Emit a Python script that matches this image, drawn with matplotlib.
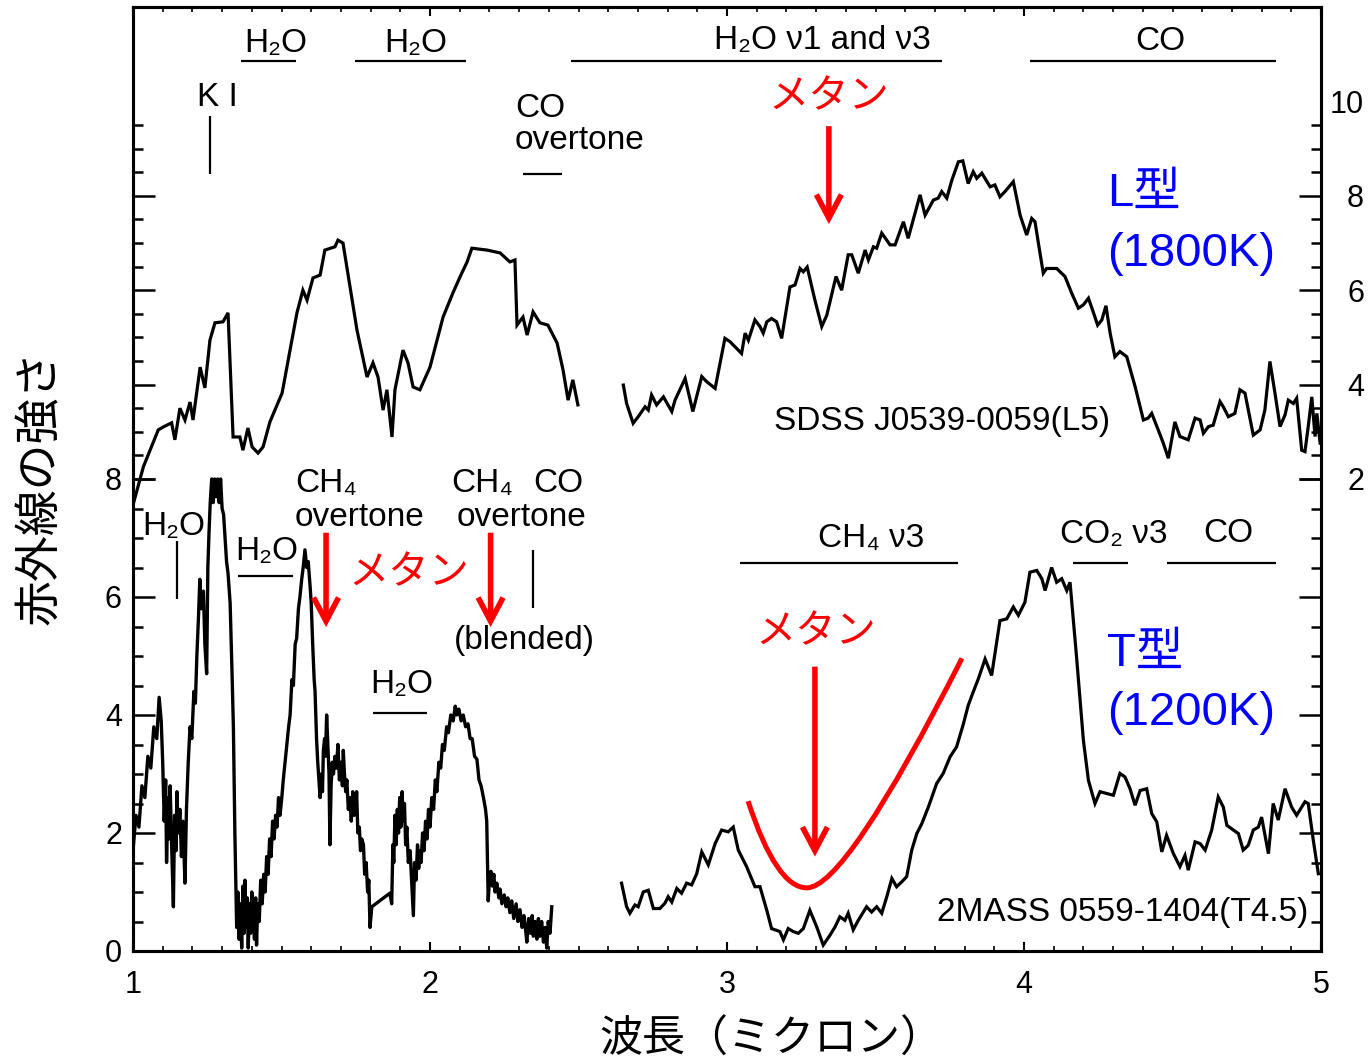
import numpy as np
import matplotlib
matplotlib.use('Agg')
import matplotlib.pyplot as plt
from matplotlib.ticker import FixedLocator
from matplotlib.path import Path
from matplotlib.patches import PathPatch

plt.rcParams['font.family'] = ['Liberation Sans', 'Noto Sans CJK JP', 'DejaVu Sans']

# ---------------- data ----------------
# L-type spectrum (right axis scale), segment 1 (1.0 - 2.5 micron)
L1_x = [1.000, 1.035, 1.085, 1.101, 1.130, 1.141, 1.158, 1.175, 1.192, 1.202, 1.226, 1.242, 1.259,
        1.276, 1.303, 1.320, 1.337, 1.360, 1.370, 1.387, 1.401, 1.421, 1.438, 1.461, 1.502, 1.552,
        1.572, 1.586, 1.606, 1.630, 1.646, 1.680, 1.690, 1.707, 1.754, 1.788, 1.808, 1.825, 1.842,
        1.855, 1.872, 1.882, 1.909, 1.926, 1.943, 1.966, 2.000, 2.044, 2.077, 2.101, 2.125, 2.141,
        2.192, 2.236, 2.269, 2.286, 2.293, 2.313, 2.327, 2.347, 2.370, 2.397, 2.428, 2.448, 2.465,
        2.481, 2.498]
L1_y = [1.45, 2.26, 3.04, 3.10, 3.19, 2.83, 3.50, 3.25, 3.63, 3.25, 4.37, 3.93, 4.94,
        5.31, 5.33, 5.52, 2.89, 2.89, 2.61, 3.08, 2.68, 2.55, 2.68, 3.21, 3.82, 5.52,
        6.00, 5.79, 6.26, 6.32, 6.85, 6.92, 7.06, 7.00, 5.16, 4.16, 4.46, 4.16, 3.46,
        3.89, 2.89, 3.89, 4.73, 4.46, 3.95, 3.89, 4.37, 5.43, 5.94, 6.28, 6.60, 6.89,
        6.85, 6.79, 6.60, 6.64, 5.26, 5.43, 5.05, 5.54, 5.31, 5.26, 4.88, 4.31, 3.67,
        4.10, 3.57]

# L-type spectrum, segment 2 (2.65 - 5.0 micron)
L2_x = [2.651, 2.662, 2.684, 2.701, 2.724, 2.735, 2.746, 2.763, 2.786, 2.814, 2.825, 2.859, 2.885,
        2.915, 2.932, 2.960, 2.993, 3.010, 3.049, 3.061, 3.072, 3.094, 3.111, 3.122, 3.134, 3.150,
        3.167, 3.184, 3.212, 3.229, 3.246, 3.257, 3.270, 3.296, 3.319, 3.336, 3.367, 3.386, 3.408,
        3.420, 3.442, 3.465, 3.476, 3.493, 3.504, 3.521, 3.549, 3.566, 3.594, 3.610, 3.650, 3.667,
        3.695, 3.711, 3.723, 3.740, 3.757, 3.779, 3.794, 3.812, 3.829, 3.841, 3.858, 3.886, 3.902,
        3.919, 3.936, 3.964, 3.987, 4.009, 4.026, 4.037, 4.054, 4.065, 4.076, 4.110, 4.138, 4.161,
        4.183, 4.200, 4.217, 4.233, 4.248, 4.262, 4.276, 4.290, 4.306, 4.323, 4.346, 4.374, 4.402,
        4.418, 4.430, 4.452, 4.469, 4.486, 4.508, 4.525, 4.553, 4.576, 4.593, 4.604, 4.621, 4.637,
        4.660, 4.671, 4.688, 4.710, 4.727, 4.744, 4.772, 4.795, 4.811, 4.828, 4.845, 4.862, 4.879,
        4.890, 4.907, 4.918, 4.935, 4.946, 4.957, 4.969, 4.980, 4.986, 4.997]
L2_y = [3.99, 3.60, 3.18, 3.32, 3.53, 3.46, 3.78, 3.57, 3.74, 3.43, 3.67, 4.13, 3.43,
        4.17, 4.06, 3.92, 4.98, 4.91, 4.66, 5.09, 4.94, 5.37, 5.23, 5.09, 5.33, 5.40,
        5.33, 4.98, 6.07, 6.11, 6.46, 6.39, 6.49, 5.79, 5.23, 5.47, 6.29, 6.00, 6.75,
        6.75, 6.36, 6.85, 6.64, 6.92, 6.89, 7.21, 6.96, 6.96, 7.45, 7.10, 8.02, 7.59,
        7.91, 7.95, 8.09, 7.95, 8.33, 8.72, 8.74, 8.26, 8.51, 8.37, 8.48, 8.19, 8.23,
        7.98, 8.09, 8.30, 7.59, 7.17, 7.52, 7.45, 6.78, 6.36, 6.46, 6.46, 6.29, 5.93,
        5.62, 5.69, 5.83, 5.54, 5.26, 5.37, 5.67, 5.09, 4.59, 4.70, 4.59, 3.96, 3.25,
        3.29, 3.39, 3.04, 2.76, 2.44, 3.21, 2.90, 2.83, 3.29, 3.25, 2.97, 3.11, 3.14,
        3.64, 3.53, 3.32, 3.39, 3.89, 3.82, 2.93, 3.04, 3.46, 4.49, 3.82, 3.11, 3.36,
        3.67, 3.60, 3.71, 2.61, 2.58, 3.11, 3.74, 2.90, 3.39, 2.76]

# T-type spectrum (left axis scale), segment 1 (1.0 - 2.41 micron)
T1_x = [1.000, 1.010, 1.020, 1.030, 1.040, 1.050, 1.060, 1.070, 1.080, 1.088, 1.095, 1.100, 1.105,
        1.110, 1.113, 1.118, 1.122, 1.125, 1.130, 1.136, 1.140, 1.145, 1.148, 1.152, 1.158, 1.163,
        1.168, 1.175, 1.180, 1.186, 1.192, 1.198, 1.205, 1.210, 1.215, 1.220, 1.225, 1.230, 1.237,
        1.242, 1.248, 1.252, 1.256, 1.260, 1.265, 1.270, 1.275, 1.280, 1.285, 1.290, 1.295, 1.300,
        1.305, 1.310, 1.315, 1.320, 1.327, 1.333, 1.338, 1.343, 1.349, 1.353, 1.357, 1.361, 1.366,
        1.370, 1.374, 1.377, 1.381, 1.385, 1.388, 1.392, 1.396, 1.400, 1.405, 1.409, 1.413, 1.416,
        1.420, 1.425, 1.430, 1.435, 1.440, 1.445, 1.450, 1.455, 1.460, 1.465, 1.470, 1.475, 1.480,
        1.485, 1.490, 1.495, 1.501, 1.506, 1.512, 1.518, 1.524, 1.529, 1.535, 1.540, 1.546, 1.551,
        1.557, 1.562, 1.568, 1.573, 1.579, 1.585, 1.590, 1.596, 1.600, 1.605, 1.610, 1.613, 1.618,
        1.622, 1.626, 1.630, 1.634, 1.638, 1.641, 1.645, 1.648, 1.652, 1.656, 1.660, 1.663, 1.667,
        1.671, 1.675, 1.680, 1.685, 1.690, 1.695, 1.700, 1.705, 1.708, 1.712, 1.716, 1.720, 1.725,
        1.730, 1.735, 1.740, 1.745, 1.750, 1.753, 1.757, 1.762, 1.766, 1.770, 1.776, 1.780, 1.785,
        1.790, 1.794, 1.798, 1.804, 1.865, 1.871, 1.875, 1.878, 1.882, 1.886, 1.890, 1.894, 1.898,
        1.902, 1.906, 1.910, 1.914, 1.918, 1.922, 1.927, 1.933, 1.938, 1.944, 1.948, 1.953, 1.958,
        1.962, 1.966, 1.970, 1.975, 1.980, 1.985, 1.990, 1.995, 2.000, 2.006, 2.012, 2.018, 2.023,
        2.030, 2.036, 2.042, 2.048, 2.056, 2.062, 2.070, 2.078, 2.085, 2.090, 2.097, 2.105, 2.112,
        2.120, 2.128, 2.135, 2.142, 2.150, 2.158, 2.165, 2.172, 2.180, 2.187, 2.191, 2.196, 2.200,
        2.205, 2.210, 2.215, 2.219, 2.225, 2.232, 2.236, 2.242, 2.250, 2.256, 2.262, 2.269, 2.275,
        2.282, 2.290, 2.296, 2.303, 2.310, 2.316, 2.322, 2.326, 2.332, 2.338, 2.344, 2.348, 2.354,
        2.360, 2.365, 2.370, 2.376, 2.382, 2.388, 2.393, 2.398, 2.404, 2.410]
T1_y = [1.70, 2.30, 2.10, 2.80, 2.60, 3.30, 3.10, 3.80, 3.60, 4.30, 3.90, 3.20, 2.20,
        2.90, 1.50, 2.60, 1.90, 2.80, 1.80, 0.75, 2.30, 1.70, 2.70, 2.00, 2.40, 1.60,
        2.20, 1.15, 2.40, 3.20, 3.80, 3.60, 4.40, 4.20, 5.00, 5.60, 6.30, 5.80, 6.10,
        5.20, 4.70, 6.50, 7.10, 7.60, 8.00, 7.60, 8.00, 7.70, 8.00, 7.60, 8.00, 7.50,
        7.40, 7.00, 6.60, 6.40, 5.90, 4.80, 3.80, 2.00, 0.40, 1.00, 0.20, 0.80, 0.05,
        1.10, 0.30, 1.20, 0.40, 0.90, 0.05, 0.80, 0.30, 1.00, 0.60, 0.20, 0.90, 0.10,
        0.80, 0.50, 1.20, 0.80, 1.30, 1.00, 1.60, 1.30, 1.90, 1.60, 2.20, 1.90, 2.30,
        2.10, 2.60, 2.30, 2.60, 2.90, 3.20, 3.50, 3.80, 4.00, 4.60, 4.50, 5.20, 5.30,
        5.80, 6.00, 6.30, 6.50, 6.80, 6.50, 6.60, 6.20, 5.90, 5.20, 4.60, 4.40, 3.60,
        3.20, 2.90, 2.60, 3.00, 2.70, 3.40, 3.60, 3.30, 4.00, 3.50, 3.00, 1.80, 2.80,
        3.20, 3.00, 3.30, 3.10, 3.50, 2.90, 3.20, 2.80, 3.40, 3.00, 2.70, 2.90, 2.40,
        2.60, 2.20, 2.70, 2.30, 2.40, 2.70, 2.00, 2.10, 1.70, 1.90, 1.80, 1.30, 1.50,
        1.00, 1.20, 0.40, 0.75, 0.98, 0.80, 1.80, 1.50, 2.30, 1.80, 2.40, 2.00, 2.60,
        2.10, 2.70, 2.20, 2.50, 1.80, 2.10, 1.50, 1.70, 1.20, 0.60, 1.50, 1.20, 1.80,
        1.40, 1.70, 1.50, 2.00, 1.70, 2.20, 1.90, 2.40, 2.10, 2.60, 2.40, 2.90, 2.70,
        3.20, 3.10, 3.50, 3.40, 3.80, 3.70, 4.00, 3.90, 4.15, 4.00, 4.10, 3.90, 4.00,
        3.80, 3.85, 3.60, 3.60, 3.30, 3.25, 2.90, 2.80, 2.60, 2.40, 2.20, 0.85, 1.20,
        1.35, 1.10, 1.30, 1.00, 1.15, 0.90, 1.05, 0.80, 0.95, 0.75, 0.90, 0.65, 0.85,
        0.55, 0.80, 0.50, 0.70, 0.40, 0.60, 0.35, 0.15, 0.55, 0.30, 0.60, 0.25, 0.50,
        0.20, 0.55, 0.25, 0.50, 0.15, 0.40, 0.05, 0.50, 0.30, 0.75]

# T-type spectrum, segment 2 (2.64 - 5.0 micron)
T2_x = [2.645, 2.662, 2.673, 2.690, 2.701, 2.718, 2.735, 2.752, 2.774, 2.791, 2.802, 2.814, 2.831,
        2.847, 2.864, 2.881, 2.898, 2.915, 2.937, 2.960, 2.982, 3.004, 3.021, 3.038, 3.066, 3.094,
        3.111, 3.134, 3.150, 3.178, 3.190, 3.206, 3.223, 3.240, 3.257, 3.279, 3.302, 3.324, 3.347,
        3.364, 3.380, 3.397, 3.408, 3.425, 3.442, 3.470, 3.487, 3.504, 3.521, 3.538, 3.555, 3.571,
        3.588, 3.605, 3.622, 3.639, 3.656, 3.678, 3.706, 3.728, 3.751, 3.773, 3.796, 3.812, 3.829,
        3.846, 3.869, 3.891, 3.919, 3.942, 3.964, 3.981, 4.003, 4.020, 4.043, 4.060, 4.071, 4.093,
        4.110, 4.127, 4.144, 4.155, 4.177, 4.200, 4.217, 4.239, 4.256, 4.278, 4.301, 4.323, 4.340,
        4.357, 4.374, 4.391, 4.413, 4.430, 4.447, 4.464, 4.480, 4.503, 4.525, 4.542, 4.553, 4.576,
        4.593, 4.610, 4.632, 4.654, 4.671, 4.683, 4.705, 4.722, 4.738, 4.755, 4.772, 4.789, 4.800,
        4.823, 4.839, 4.856, 4.879, 4.901, 4.918, 4.946, 4.957, 4.974, 4.991]
T2_y = [1.15, 0.75, 0.64, 0.78, 0.75, 1.00, 1.03, 0.72, 0.72, 0.81, 0.92, 0.83, 1.06,
        0.98, 1.15, 1.12, 1.31, 1.68, 1.46, 1.82, 2.05, 2.02, 2.10, 1.71, 1.43, 1.09,
        1.09, 0.69, 0.38, 0.33, 0.19, 0.38, 0.33, 0.30, 0.38, 0.69, 0.41, 0.10, 0.27,
        0.41, 0.58, 0.52, 0.64, 0.36, 0.52, 0.75, 0.66, 0.75, 0.64, 0.92, 1.23, 1.09,
        1.17, 1.26, 1.71, 1.99, 2.16, 2.44, 2.84, 3.01, 3.29, 3.46, 3.85, 4.16, 4.39,
        4.61, 4.95, 4.67, 5.60, 5.63, 5.83, 5.69, 5.91, 6.42, 6.45, 6.31, 6.11, 6.50,
        6.25, 6.31, 6.11, 6.25, 4.98, 3.57, 2.89, 2.50, 2.70, 2.67, 2.64, 3.01, 2.95,
        2.75, 2.47, 2.72, 2.75, 2.33, 2.19, 1.68, 1.96, 1.65, 1.43, 1.62, 1.37, 1.85,
        1.82, 1.71, 2.05, 2.61, 2.44, 2.13, 2.05, 1.99, 1.71, 1.79, 2.05, 2.10, 2.27,
        1.65, 2.50, 2.22, 2.75, 2.44, 2.30, 2.53, 2.50, 1.88, 1.31]

x_ticks = [1, 2, 3, 4, 5]
left_ticks = [0, 2, 4, 6, 8]
right_ticks = [2, 4, 6, 8, 10]

RED = '#ff0000'
BLUE = '#0000ff'

# ---------------- figure ----------------
fig = plt.figure(figsize=(13.7, 10.63), dpi=100)
ax = fig.add_axes([133 / 1370, 1 - 951 / 1063, (1321 - 133) / 1370, (951 - 7) / 1063])
ax2 = ax.twinx()

ax.set_xlim(1, 5)
ax.set_ylim(0, 16)
ax2.set_ylim(-8, 12)

# spectra
ax2.plot(L1_x, L1_y, color='black', lw=2.3, solid_joinstyle='miter')
ax2.plot(L2_x, L2_y, color='black', lw=2.3, solid_joinstyle='miter')
ax.plot(T1_x, T1_y, color='black', lw=2.4)
ax.plot(T2_x, T2_y, color='black', lw=2.3, solid_joinstyle='miter')

# ---- ticks ----
ax.set_xticks(x_ticks)
ax.set_xticklabels([str(v) for v in x_ticks])
ax.xaxis.set_minor_locator(FixedLocator([1 + 0.1 * i for i in range(41) if i % 10 != 0]))
ax.tick_params(axis='x', which='both', direction='in', top=True, bottom=True)
ax.tick_params(axis='x', which='major', length=6.5, width=1.5, labelsize=22, pad=14)
ax.tick_params(axis='x', which='minor', length=3.3, width=1.2)

ax.set_yticks(left_ticks)
ax.set_yticklabels([str(v) for v in left_ticks])
ax.yaxis.set_minor_locator(FixedLocator([0.5 * i for i in range(1, 16) if i % 4 != 0]))
ax.tick_params(axis='y', which='both', direction='in', left=True, right=True,
               labelleft=True, labelright=False)
ax.tick_params(axis='y', which='major', length=16, width=1.8, labelsize=22, pad=8)
ax.tick_params(axis='y', which='minor', length=7.5, width=1.8)

ax2.set_yticks(right_ticks)
ax2.set_yticklabels([str(v) for v in right_ticks])
ax2.yaxis.set_minor_locator(FixedLocator([2 + 0.5 * i for i in range(1, 16) if i % 4 != 0]))
ax2.tick_params(axis='y', which='both', direction='in', left=True, right=True,
                labelleft=False, labelright=True)
ax2.tick_params(axis='y', which='major', length=16, width=1.8, labelsize=22, pad=31)
ax2.tick_params(axis='y', which='minor', length=7.5, width=1.8)
for t in ax2.yaxis.get_major_ticks():
    t.label2.set_horizontalalignment('right')
top_tick = ax2.yaxis.get_major_ticks()[-1]
top_tick.tick1line.set_visible(False)
top_tick.tick2line.set_visible(False)

for a in (ax, ax2):
    for s in a.spines.values():
        s.set_linewidth(2.2)

# ---- axis labels ----
fig.text(771 / 1370, 1 - 1040 / 1063, '波長（ミクロン）', fontsize=31, ha='center', va='center',
         family=['Noto Sans CJK JP', 'DejaVu Sans'])
fig.text(40 / 1370, 1 - 487 / 1063, '赤外線の強さ', fontsize=33, ha='center', va='center',
         rotation=90, family=['Noto Sans CJK JP', 'DejaVu Sans'])

# ---- black band annotations (left-axis data coords) ----
FS = 24
LW_ANN = 1.6

def label(x, y, s, ha='center', fs=FS):
    ax.text(x, y, s, ha=ha, va='center', fontsize=fs, color='black')

def hbar(x0, x1, y):
    ax.plot([x0, x1], [y, y], color='black', lw=LW_ANN, solid_capstyle='butt')

def vbar(x, y0, y1):
    ax.plot([x, x], [y0, y1], color='black', lw=LW_ANN, solid_capstyle='butt')

# upper (L-type) row
label(1.481, 15.38, 'H₂O'); hbar(1.363, 1.549, 15.08)
label(1.953, 15.38, 'H₂O'); hbar(1.747, 2.120, 15.08)
label(3.320, 15.43, 'H₂O ν1 and ν3'); hbar(2.475, 3.724, 15.08)
label(4.458, 15.41, 'CO'); hbar(4.020, 4.848, 15.08)
label(1.283, 14.47, 'K I'); vbar(1.259, 14.15, 13.17)
label(2.286, 14.28, 'CO', ha='left')
label(2.286, 13.74, 'overtone', ha='left'); hbar(2.313, 2.444, 13.17)
label(3.158, 8.97, 'SDSS J0539-0059(L5)', ha='left')

# lower (T-type) row
label(1.138, 7.19, 'H₂O'); vbar(1.149, 6.95, 5.97)
label(1.451, 6.77, 'H₂O'); hbar(1.354, 1.539, 6.36)
label(1.545, 7.92, 'CH₄', ha='left')
label(1.545, 7.34, 'overtone', ha='left')
label(2.073, 7.92, 'CH₄', ha='left')
label(2.347, 7.92, 'CO', ha='left')
label(2.088, 7.34, 'overtone', ha='left')
label(2.081, 5.26, '(blended)', ha='left')
vbar(2.347, 6.80, 5.82)
label(1.906, 4.52, 'H₂O'); hbar(1.808, 1.990, 4.04)
label(3.485, 6.99, 'CH₄ ν3'); hbar(3.044, 3.778, 6.58)
label(4.303, 7.06, 'CO₂ ν3'); hbar(4.165, 4.350, 6.58)
label(4.687, 7.07, 'CO'); hbar(4.481, 4.848, 6.58)
label(4.956, 0.66, '2MASS 0559-1404(T4.5)', ha='right')

# ---- red methane annotations ----
def red_text(x, y, s):
    ax.text(x, y, s, ha='center', va='center', fontsize=29, color=RED,
            family=['Noto Sans CJK JP', 'DejaVu Sans'])

def red_arrow(x, y0, y1):
    ax.annotate('', xy=(x, y1), xytext=(x, y0),
                arrowprops=dict(arrowstyle='->,head_length=0.85,head_width=0.45',
                                color=RED, lw=4, shrinkA=0, shrinkB=0,
                                mutation_scale=20, joinstyle='miter', capstyle='butt'))

red_text(3.343, 14.48, 'メタン'); red_arrow(3.343, 13.98, 12.32)
red_text(1.929, 6.41, 'メタン'); red_arrow(1.650, 7.09, 5.49); red_arrow(2.204, 7.09, 5.49)
red_text(3.300, 5.41, 'メタン'); red_arrow(3.296, 4.82, 1.60)

curve = Path([(3.071, 2.54), (3.166, 1.07), (3.269, 1.07), (3.399, 1.07), (3.791, 4.96)],
             [Path.MOVETO, Path.CURVE3, Path.CURVE3, Path.CURVE3, Path.CURVE3])
ax.add_patch(PathPatch(curve, fill=False, edgecolor=RED, lw=3.6, capstyle='butt'))

# ---- blue type labels ----
ax.text(4.279, 12.84, 'L型', ha='left', va='center', fontsize=34, color=BLUE)
ax.text(4.279, 11.81, '(1800K)', ha='left', va='center', fontsize=34, color=BLUE)
ax.text(4.279, 5.04, 'T型', ha='left', va='center', fontsize=34, color=BLUE)
ax.text(4.279, 4.04, '(1200K)', ha='left', va='center', fontsize=34, color=BLUE)

fig.savefig('out.png', dpi=100)
